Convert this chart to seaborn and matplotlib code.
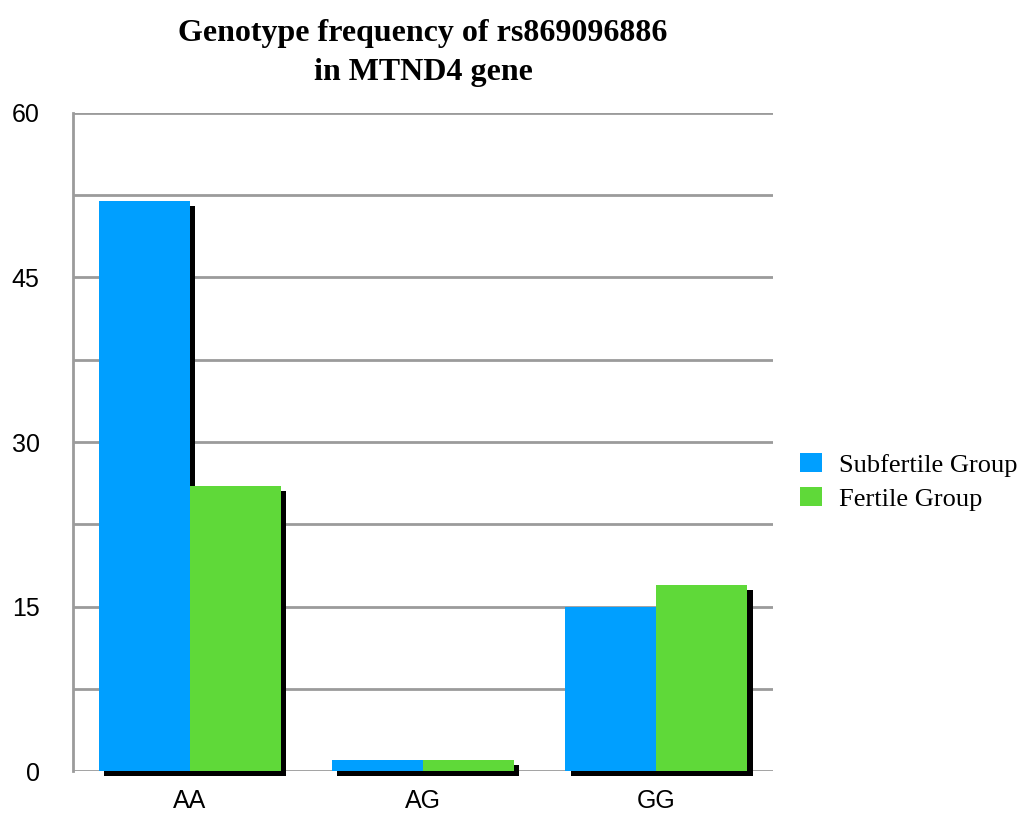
import matplotlib
matplotlib.use("Agg")
import matplotlib.pyplot as plt
import matplotlib.patheffects as pe
from matplotlib.patches import Patch
from matplotlib.ticker import MultipleLocator
import seaborn as sns
import pandas as pd

genotypes = ["AA", "AG", "GG"]
groups = ["Subfertile Group", "Fertile Group"]
subfertile = [52, 1, 15]
fertile = [26, 1, 17]
palette = ["#009FFF", "#5FD939"]

df = pd.DataFrame({
    "Genotype": genotypes * 2,
    "Group": [groups[0]] * 3 + [groups[1]] * 3,
    "Frequency": subfertile + fertile,
})

sns.set_theme(style="white")
plt.rcParams["font.family"] = ["Liberation Sans", "DejaVu Sans"]
plt.rcParams["text.color"] = "black"
plt.rcParams["xtick.color"] = "black"
plt.rcParams["ytick.color"] = "black"

fig = plt.figure(figsize=(10.27, 8.14), dpi=100)
ax = fig.add_axes([0.0711, 0.0528, 0.6816, 0.8084])

sns.barplot(data=df, x="Genotype", y="Frequency", hue="Group",
            palette=palette, width=0.78, saturation=1, ax=ax,
            legend=False, linewidth=0)

# solid black drop shadow under each bar
shadow = [pe.SimplePatchShadow(offset=(3.8, -3.8), shadow_rgbFace="black", alpha=1.0),
          pe.Normal()]
for bar in ax.patches:
    bar.set_path_effects(shadow)
    bar.set_clip_on(False)
    bar.set_zorder(3)

ax.set_ylim(0, 60)
ax.set_xlim(-0.5, 2.5)
ax.yaxis.set_major_locator(MultipleLocator(15))
ax.yaxis.set_minor_locator(MultipleLocator(7.5))
ax.grid(axis="y", which="both", color="#9B9B9B", linewidth=2)
ax.set_axisbelow(True)
for side in ["top", "right", "bottom"]:
    ax.spines[side].set_visible(False)
ax.spines["left"].set_color("#9B9B9B")
ax.spines["left"].set_linewidth(2)
ax.tick_params(axis="both", which="both", length=0)
ax.tick_params(axis="y", pad=24, labelsize=18)
ax.tick_params(axis="x", pad=13, labelsize=18)
ax.set_xlabel("")
ax.set_ylabel("")

ax.set_title("Genotype frequency of rs869096886\nin MTND4 gene",
             fontfamily="Liberation Serif", fontweight="bold", fontsize=23,
             pad=24, linespacing=1.45, color="black")

handles = [Patch(facecolor=c, edgecolor="none") for c in palette]
fig.legend(handles, groups, loc="center left", bbox_to_anchor=(0.7665, 0.408),
           frameon=False, borderpad=0,
           prop={"family": "Liberation Serif", "size": 19},
           handlelength=0.8, handleheight=0.75, handletextpad=0.65,
           labelspacing=0.38)

fig.savefig("out.png", dpi=100)
